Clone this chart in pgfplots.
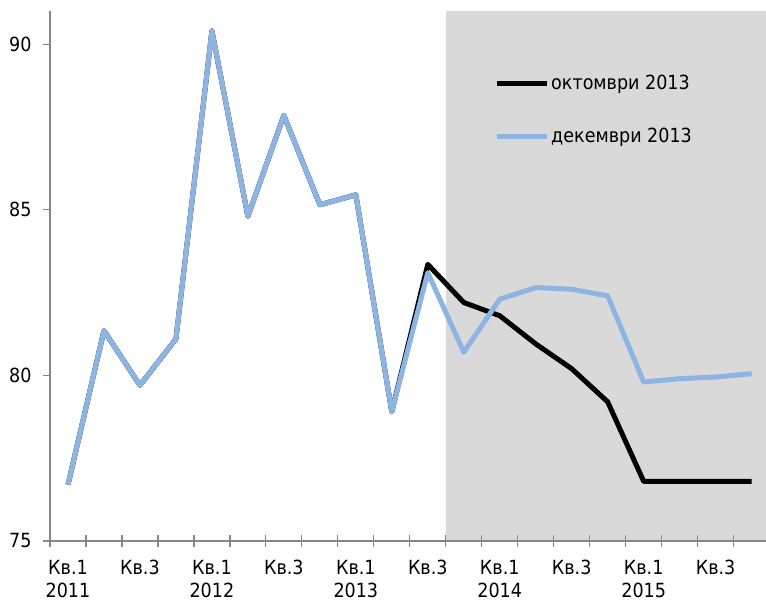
\documentclass[border=0pt]{standalone}
\usepackage{pgfplots}
\pgfplotsset{compat=1.18}
\usepackage{fontspec}
\setmainfont{DejaVu Sans Condensed}
\definecolor{lblue}{HTML}{8DB4E2}
\definecolor{shade}{HTML}{D9D9D9}
\definecolor{axgray}{HTML}{868686}
\begin{document}
\begin{tikzpicture}
\begin{axis}[
 scale only axis, width=716bp, height=530bp,
 xmin=-0.5, xmax=19.4, ymin=75, ymax=91,
 axis x line*=bottom, axis y line*=left,
 axis on top,
 axis line style={axgray, line width=1.2bp},
 tick align=outside,
 major tick length=7bp,
 tick style={axgray, line width=1.2bp},
 xtick style={/pgfplots/major tick length=12bp, /pgfplots/tick align=center},
 ytick={75,80,85,90},
 xtick={-0.5,0.5,...,18.5},
 xticklabels={},
 extra x ticks={0,2,...,18},
 extra x tick labels={{Кв.1\\2011},{Кв.3},{Кв.1\\2012},{Кв.3},{Кв.1\\2013},{Кв.3},{Кв.1\\2014},{Кв.3},{Кв.1\\2015},{Кв.3}},
 extra x tick style={major tick length=0pt, xtick style={draw=none}},
 x tick label style={align=center, font=\fontsize{19.5bp}{23bp}\selectfont, yshift=-16bp},
 y tick label style={font=\fontsize{19.5bp}{23bp}\selectfont, xshift=-8bp},
 /pgf/number format/assume math mode=true,
 legend style={at={(0.616,0.887)}, anchor=north west, draw=none, fill=none,
   font=\fontsize{19.5bp}{23bp}\selectfont, row sep=33bp},
 legend cell align=left,
 legend image code/.code={\draw[#1] (0bp,0bp) -- (50bp,0bp);},
]
\addplot[fill=shade, draw=none, forget plot] coordinates {(10.5,75) (10.5,91) (19.4,91) (19.4,75)} \closedcycle;
\addplot[black, line width=5bp, line join=round] coordinates {
(0,76.7) (1,81.35) (2,79.7) (3,81.1) (4,90.4) (5,84.8) (6,87.85) (7,85.15) (8,85.45) (9,78.9)
(10,83.35) (11,82.2) (12,81.8) (13,80.95) (14,80.2) (15,79.2) (16,76.8) (17,76.8) (18,76.8) (19,76.8)};
\addlegendentry{октомври 2013}
\addplot[lblue, line width=5bp, line join=round] coordinates {
(0,76.7) (1,81.35) (2,79.7) (3,81.1) (4,90.4) (5,84.8) (6,87.85) (7,85.15) (8,85.45) (9,78.9)
(10,83.1) (11,80.7) (12,82.3) (13,82.65) (14,82.6) (15,82.4) (16,79.8) (17,79.9) (18,79.95) (19,80.05)};
\addlegendentry{декември 2013}
\coordinate (sw) at (rel axis cs:0,0);
\coordinate (ne) at (rel axis cs:1,1);
\end{axis}
\pgfresetboundingbox
\path ([shift={(-50bp,-60bp)}]sw) rectangle ([shift={(0bp,11bp)}]ne);
\end{tikzpicture}
\end{document}
